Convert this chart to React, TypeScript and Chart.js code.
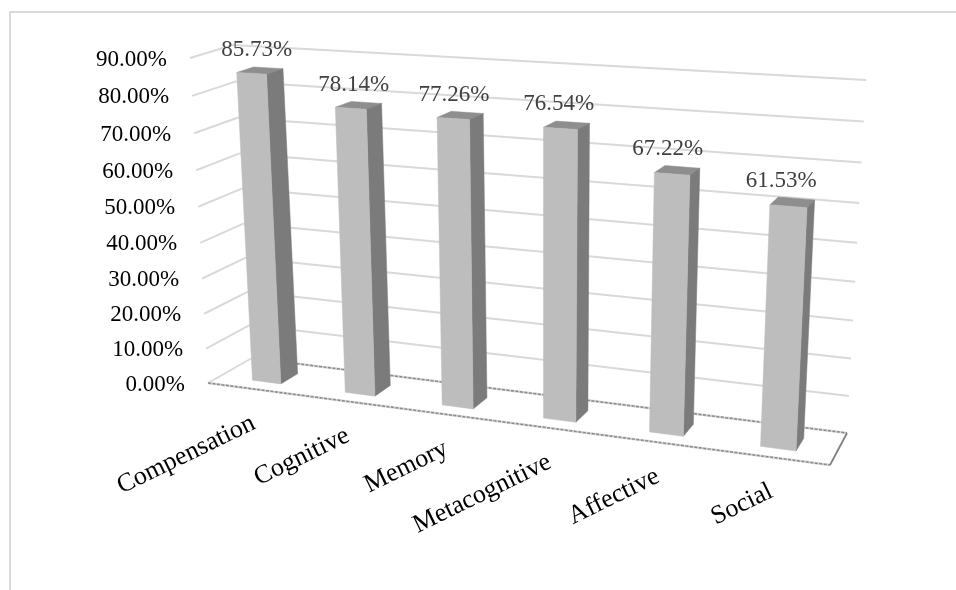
import React, { useEffect, useRef } from "react";
import { Chart, registerables } from "chart.js";

Chart.register(...registerables);

const categories = ["Compensation", "Cognitive", "Memory", "Metacognitive", "Affective", "Social"];
const values = [85.73, 78.14, 77.26, 76.54, 67.22, 61.53];

type P = [number, number];
// corners of the chart's 3D box on the page: bottom-left, bottom-right, top-right, top-left
const FRONT_PLANE: P[] = [[208, 383], [830, 465], [849, 94], [190, 58]];
const BACK_PLANE: P[] = [[252, 358], [847, 433], [866, 80], [233, 45]];
const BAR_Z: [number, number] = [0.28, 0.68];
const BAR_U_SHIFT = 0.002;

function homography(q: P[]) {
  // unit square to quad: (0,0),(1,0),(1,1),(0,1)
  const [[x0, y0], [x1, y1], [x2, y2], [x3, y3]] = q;
  const dx1 = x1 - x2, dx2 = x3 - x2, sx = x0 - x1 + x2 - x3;
  const dy1 = y1 - y2, dy2 = y3 - y2, sy = y0 - y1 + y2 - y3;
  const den = dx1 * dy2 - dx2 * dy1;
  const g = (sx * dy2 - dx2 * sy) / den;
  const h = (dx1 * sy - sx * dy1) / den;
  const a = x1 - x0 + g * x1, b = x3 - x0 + h * x3, c = x0;
  const d = y1 - y0 + g * y1, e = y3 - y0 + h * y3, f = y0;
  return (u: number, v: number): P => {
    const w = g * u + h * v + 1;
    return [(a * u + b * v + c) / w, (d * u + e * v + f) / w];
  };
}
const front = homography(FRONT_PLANE);
const back = homography(BACK_PLANE);
const project = (u: number, v: number, z: number): P => {
  const p = front(u, v), q = back(u, v);
  return [p[0] + (q[0] - p[0]) * z, p[1] + (q[1] - p[1]) * z];
};

function poly(ctx: CanvasRenderingContext2D, pts: P[], fill: string) {
  ctx.beginPath();
  pts.forEach((p, i) => (i ? ctx.lineTo(p[0], p[1]) : ctx.moveTo(p[0], p[1])));
  ctx.closePath();
  ctx.fillStyle = fill;
  ctx.fill();
  ctx.strokeStyle = fill;
  ctx.lineWidth = 0.5;
  ctx.stroke();
}
function line(ctx: CanvasRenderingContext2D, a: P, b: P, color: string, w: number, dash: number[] = []) {
  ctx.beginPath();
  ctx.moveTo(a[0], a[1]);
  ctx.lineTo(b[0], b[1]);
  ctx.strokeStyle = color;
  ctx.lineWidth = w;
  ctx.setLineDash(dash);
  ctx.stroke();
  ctx.setLineDash([]);
}

const box3d = {
  id: "box3d",
  afterDatasetsDraw(chart: any) {
    const { ctx, chartArea: ca, scales } = chart;
    const U = (px: number) => (px - ca.left) / ca.width;
    const V = (py: number) => (ca.bottom - py) / ca.height;
    ctx.save();

    // page frame
    ctx.strokeStyle = "#D9D9D9";
    ctx.lineWidth = 2;
    ctx.beginPath();
    ctx.moveTo(10, 590);
    ctx.lineTo(10, 12);
    ctx.lineTo(956, 12);
    ctx.stroke();

    // grid lines on the side and back walls
    const yScale = scales.y;
    yScale.ticks.forEach((t: any) => {
      const v = V(yScale.getPixelForValue(t.value));
      if (t.value !== 0) {
        line(ctx, project(0, v, 0), project(0, v, 1), "#D9D9D9", 2);
        line(ctx, project(0, v, 1), project(1, v, 1), "#D9D9D9", 2);
      }
    });

    // floor
    const fl = project(0, 0, 0), fr = project(1, 0, 0), br = project(1, 0, 1), bl = project(0, 0, 1);
    line(ctx, fl, bl, "#D9D9D9", 2);
    [[bl, br], [fl, fr]].forEach(([a, b]) => {
      line(ctx, a, b, "#D9D9D9", 2.5);
      line(ctx, a, b, "#8A8A8A", 1.5, [3, 1.5]);
    });
    line(ctx, fr, br, "#808080", 1.8);

    // bars, computed from the bar elements the library laid out
    const meta = chart.getDatasetMeta(0);
    meta.data.forEach((el: any, i: number) => {
      const u0 = U(el.x - el.width / 2) + BAR_U_SHIFT, u1 = U(el.x + el.width / 2) + BAR_U_SHIFT;
      const vt = V(el.y), vb = V(el.base);
      const [z0, z1] = BAR_Z;
      poly(ctx, [project(u0, vt, z0), project(u1, vt, z0), project(u1, vt, z1), project(u0, vt, z1)], "#8E8E8E");
      poly(ctx, [project(u1, vb, z0), project(u1, vb, z1), project(u1, vt, z1), project(u1, vt, z0)], "#7B7B7B");
      poly(ctx, [project(u0, vb, z0), project(u1, vb, z0), project(u1, vt, z0), project(u0, vt, z0)], "#BDBDBD");

      // value label
      const uc = U(el.x);
      const top = project(uc, vt, 0.5);
      ctx.font = '23px "Liberation Serif"';
      ctx.fillStyle = "#404040";
      ctx.textAlign = "center";
      ctx.textBaseline = "middle";
      ctx.fillText(values[i].toFixed(2) + "%", top[0] - 2.2 - 8.7 * uc, top[1] - 20.5);

      // category label
      const foot = project(uc, 0, 0);
      ctx.save();
      ctx.translate(foot[0] + 3, foot[1] + 39);
      ctx.rotate((-26 * Math.PI) / 180);
      ctx.font = '26px "Liberation Serif"';
      ctx.fillStyle = "#000000";
      ctx.textAlign = "right";
      ctx.textBaseline = "alphabetic";
      ctx.fillText(categories[i], 0, 0);
      ctx.restore();
    });

    // value axis labels follow the leaning front edge of the side wall
    yScale.ticks.forEach((t: any) => {
      const p = project(0, V(yScale.getPixelForValue(t.value)), 0);
      ctx.font = '23px "Liberation Serif"';
      ctx.fillStyle = "#000000";
      ctx.textAlign = "right";
      ctx.textBaseline = "middle";
      ctx.fillText(Number(t.value).toFixed(2) + "%", p[0] - 23, p[1] + 1.5);
    });
    ctx.restore();
  },
};

export default function App() {
  const ref = useRef<HTMLCanvasElement | null>(null);
  useEffect(() => {
    const chart = new Chart(ref.current!, {
      type: "bar",
      data: {
        labels: categories,
        datasets: [{ data: values, backgroundColor: "rgba(0,0,0,0)", borderWidth: 0, categoryPercentage: 1, barPercentage: 0.31 }],
      },
      options: {
        responsive: false,
        animation: false,
        layout: { padding: { left: 60, right: 60, top: 60, bottom: 60 } },
        plugins: { legend: { display: false }, tooltip: { enabled: false } },
        scales: {
          x: { display: false },
          y: { display: false, min: 0, max: 90, ticks: { stepSize: 10 } },
        },
      },
      plugins: [box3d],
    } as any);
    return () => chart.destroy();
  }, []);
  return (
    <div style={{ position: "fixed", left: 0, top: 0, width: 956, height: 590, background: "#fff" }}>
      <canvas ref={ref} width={956} height={590} style={{ display: "block" }} />
    </div>
  );
}
